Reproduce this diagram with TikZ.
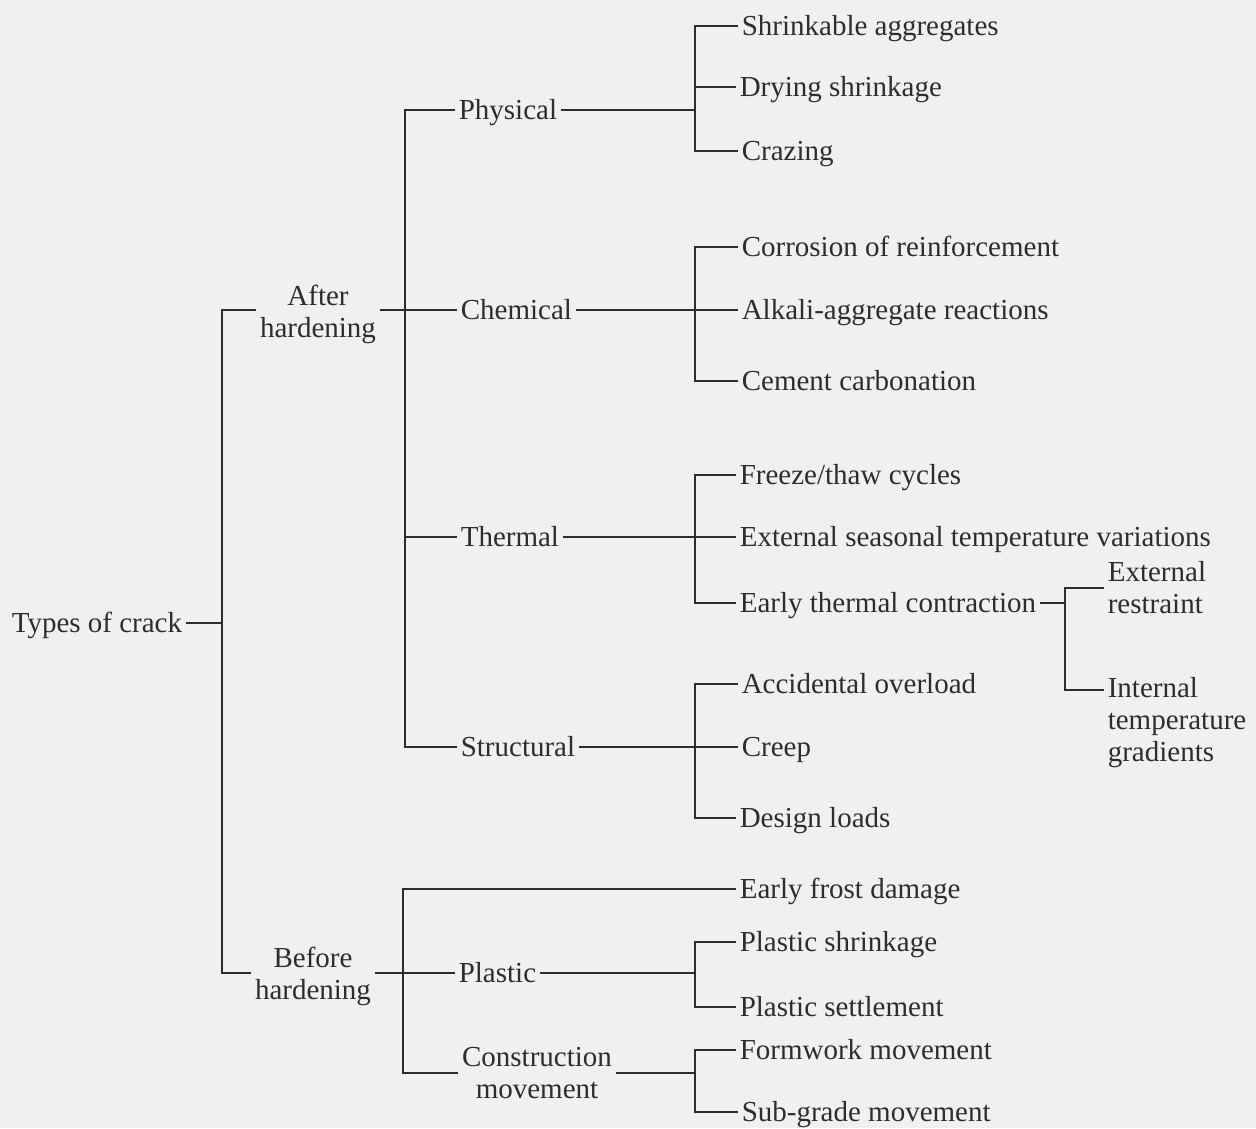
\documentclass[tikz,border=0pt]{standalone}
\usepackage{fontspec}
\setmainfont{Liberation Serif}
\usetikzlibrary{calc}
\definecolor{ink}{RGB}{45,45,45}
\definecolor{paper}{RGB}{240,240,238}

\begin{document}
\begin{tikzpicture}[x=1pt, y=-1pt, line width=1.6pt, draw=ink,
  every node/.style={font=\fontsize{29}{32}\selectfont, text=ink, inner sep=3pt},
  leaf/.style={anchor=west, text height=18pt, text depth=0pt},
  pair/.style={align=center},
  stack/.style={anchor=west, align=left}]
\fill[paper] (0,0) rectangle (1256,1128);
\useasboundingbox (0,0) rectangle (1256,1128);
\coordinate (s0) at (222,0);
\coordinate (s1) at (405,0);
\coordinate (s2) at (403,0);
\coordinate (s3) at (695,0);
\coordinate (s4) at (1065,0);
\node[leaf] (types) at (8,623) {Types of crack};
\node[pair] (after) at (318,314) {After\\hardening};
\node[pair] (before) at (313,976) {Before\\hardening};
\node[leaf] (phys) at (455,110) {Physical};
\node[leaf] (chem) at (457,310) {Chemical};
\node[leaf] (therm) at (457,537) {Thermal};
\node[leaf] (struct) at (457,747) {Structural};
\node[leaf] (plast) at (455,973) {Plastic};
\node[pair] (constr) at (537,1073) {Construction\\movement};
\node[leaf] (shrink) at (738,26) {Shrinkable aggregates};
\node[leaf] (drying) at (736,87) {Drying shrinkage};
\node[leaf] (crazing) at (738,151) {Crazing};
\node[leaf] (corr) at (738,247) {Corrosion of reinforcement};
\node[leaf] (alkali) at (738,310) {Alkali-aggregate reactions};
\node[leaf] (carb) at (738,381) {Cement carbonation};
\node[leaf] (freeze) at (736,475) {Freeze/thaw cycles};
\node[leaf] (season) at (736,537) {External seasonal temperature variations};
\node[leaf] (early) at (736,603) {Early thermal contraction};
\node[leaf] (accid) at (738,684) {Accidental overload};
\node[leaf] (creep) at (738,747) {Creep};
\node[leaf] (design) at (736,818) {Design loads};
\node[leaf] (frost) at (736,889) {Early frost damage};
\node[leaf] (pshrink) at (736,942) {Plastic shrinkage};
\node[leaf] (psettle) at (736,1007) {Plastic settlement};
\node[leaf] (form) at (736,1050) {Formwork movement};
\node[leaf] (subgr) at (738,1112) {Sub-grade movement};
\node[stack] (restr) at (1104,588) {External\\restraint};
\node[stack] (intern) at (1104,723) {Internal\\temperature\\gradients};
\draw (types.east) -- (types.east -| s0);
\draw (chem.west -| after.west) -- (chem.west -| s0) -- (plast.west -| s0) -- (plast.west -| before.west);
\draw (phys.west) -- (phys.west -| s1) -- (struct.west -| s1) -- (struct.west);
\draw (chem.west -| after.east) -- (chem.west);
\draw (therm.west) -- (therm.west -| s1);
\draw (frost.west) -- (frost.west -| s2) -- (constr.west -| s2) -- (constr.west);
\draw (plast.west -| before.east) -- (plast.west);
\draw (phys.east) -- (phys.east -| s3);
\draw (shrink.west) -- (shrink.west -| s3) -- (crazing.west -| s3) -- (crazing.west);
\draw (drying.west) -- (drying.west -| s3);
\draw (chem.east) -- (alkali.west);
\draw (corr.west) -- (corr.west -| s3) -- (carb.west -| s3) -- (carb.west);
\draw (therm.east) -- (season.west);
\draw (freeze.west) -- (freeze.west -| s3) -- (early.west -| s3) -- (early.west);
\draw (struct.east) -- (creep.west);
\draw (accid.west) -- (accid.west -| s3) -- (design.west -| s3) -- (design.west);
\draw (plast.east) -- (plast.east -| s3);
\draw (pshrink.west) -- (pshrink.west -| s3) -- (psettle.west -| s3) -- (psettle.west);
\draw (constr.east) -- (constr.east -| s3);
\draw (form.west) -- (form.west -| s3) -- (subgr.west -| s3) -- (subgr.west);
\draw (early.east) -- (early.east -| s4);
\draw (restr.west) -- (restr.west -| s4) -- ($(intern.north west -| s4)+(0,16)$) -- ($(intern.north west)+(0,16)$);
\end{tikzpicture}
\end{document}
